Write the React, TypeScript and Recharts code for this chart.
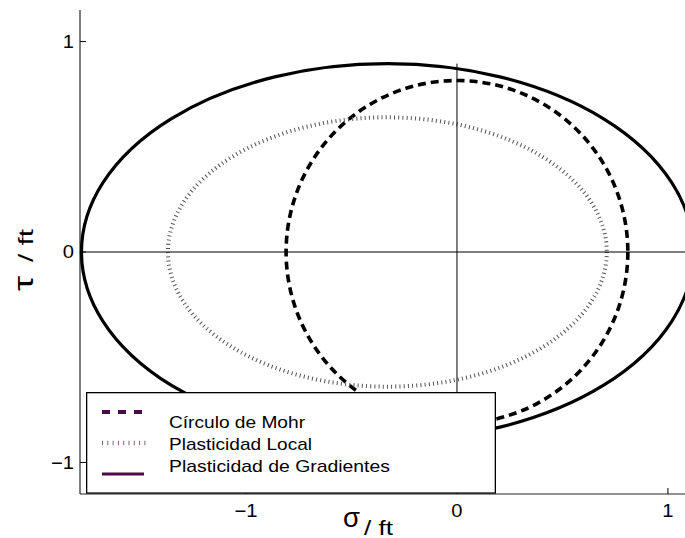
import { FC } from 'react'
import { LineChart, XAxis, YAxis, ReferenceArea, ReferenceLine, Legend, Label } from 'recharts'

// yield curves in the (σ/ft, τ/ft) plane: centre and half-axes of each one
const curveNames = ['Círculo de Mohr', 'Plasticidad Local', 'Plasticidad de Gradientes']
const centreSigma = [0, -0.33, -0.33]
const centreTau = [0, 0, 0]
const halfSigma = [0.81, 1.04, 1.45]
const halfTau = [0.815, 0.64, 0.895]

const sigmaTicks = [-1, 0, 1]
const tauTicks = [-1, 0, 1]
const sigmaDomain = [-1.787, 1.152]
const tauDomain = [-1.15, 1.15]
const crossTau = [-0.895, 0.895]

const FONT = "'Liberation Sans', Arial, sans-serif"
const PURPLE = '#4b0b47'

const curveStyle = [
    { stroke: '#000', strokeWidth: 3.6, strokeDasharray: '8 5' },
    { stroke: '#555', strokeWidth: 4, strokeDasharray: '1 3.2' },
    { stroke: '#000', strokeWidth: 3.2, strokeDasharray: undefined },
]
const legendStyle = [
    { stroke: PURPLE, strokeWidth: 4, strokeDasharray: '8 8' },
    { stroke: '#8a5a86', strokeWidth: 4.5, strokeDasharray: '1 4.3' },
    { stroke: PURPLE, strokeWidth: 3, strokeDasharray: undefined },
]

const fmt = (v: number) => (v < 0 ? '\u2212' + Math.abs(v) : String(v))

const StretchTick = (props: any) => {
    const { x, y, payload, textAnchor, orientation } = props
    return (
        <g transform={`translate(${x},${y}) scale(1.12,1)`}>
            <text x={0} y={0} textAnchor={textAnchor} dy={orientation === 'bottom' ? '0.71em' : '0.355em'}
                fontFamily={FONT} fontSize={18} fill="#000">
                {fmt(payload.value)}
            </text>
        </g>
    )
}

// each curve is the ellipse inscribed in its bounding area
const ellipseShape = (i: number) => (p: any) => (
    <ellipse cx={p.x + p.width / 2} cy={p.y + p.height / 2}
        rx={Math.abs(p.width) / 2} ry={Math.abs(p.height) / 2}
        fill="none" {...curveStyle[i]} />
)

const sampleY = [20, 51, 82]
const textY = [36, 58, 80]
const textLen = [136, 143, 221]

const LegendBox = () => (
    <svg width={410} height={102} style={{ display: 'block' }}>
        <rect x={0.65} y={0.65} width={408.7} height={100.4} fill="#fff" stroke="#000" strokeWidth={1.3} />
        {curveNames.map((name, i) => (
            <g key={name}>
                <line x1={16} x2={i === 1 ? 61 : 58} y1={sampleY[i]} y2={sampleY[i]} {...legendStyle[i]} />
                <text x={83} y={textY[i]} fontFamily={FONT} fontSize={17} textLength={textLen[i]}
                    lengthAdjust="spacingAndGlyphs" fill="#000">{name}</text>
            </g>
        ))}
    </svg>
)

const SigmaLabel = () => (
    <g fontFamily={FONT} fill="#000">
        <text x={343} y={527} fontSize={27} textLength={17} lengthAdjust="spacingAndGlyphs">σ</text>
        <text x={364} y={535} fontSize={21} textLength={29} lengthAdjust="spacingAndGlyphs">/ ft</text>
    </g>
)

const TauLabel = () => (
    <g transform="translate(33,291) rotate(-90)" fontFamily={FONT} fill="#000">
        <text x={0} y={0} fontSize={27} textLength={15} lengthAdjust="spacingAndGlyphs">τ</text>
        <text x={29} y={0} fontSize={21} textLength={33} lengthAdjust="spacingAndGlyphs">/ ft</text>
    </g>
)

const App: FC = () => {
    return (
        <div style={{ position: 'fixed', left: 0, top: 0, width: 685, height: 538, overflow: 'hidden', background: '#fff' }}>
            <LineChart width={720} height={538} margin={{ top: 10, right: 20, bottom: 43, left: 79 }}>
                <XAxis type="number" dataKey="sigma" domain={sigmaDomain} ticks={sigmaTicks} height={1}
                    allowDataOverflow tickSize={-6} tickMargin={16} tick={StretchTick}
                    axisLine={{ stroke: '#6e6e6e', strokeWidth: 1.6 }} tickLine={{ stroke: '#000' }}>
                    <Label content={SigmaLabel} />
                </XAxis>
                <YAxis type="number" dataKey="tau" domain={tauDomain} ticks={tauTicks} width={1}
                    allowDataOverflow tickSize={-6} tickMargin={12} tick={StretchTick}
                    axisLine={{ stroke: '#000' }} tickLine={{ stroke: '#000' }}>
                    <Label content={TauLabel} />
                </YAxis>
                <ReferenceLine y={0} stroke="#000" strokeWidth={1} ifOverflow="visible" />
                <ReferenceLine segment={[{ x: 0, y: crossTau[0] }, { x: 0, y: crossTau[1] }]}
                    stroke="#000" strokeWidth={1} ifOverflow="visible" />
                {curveNames.map((name, i) => (
                    <ReferenceArea key={name} ifOverflow="visible"
                        x1={centreSigma[i] - halfSigma[i]} x2={centreSigma[i] + halfSigma[i]}
                        y1={centreTau[i] - halfTau[i]} y2={centreTau[i] + halfTau[i]}
                        shape={ellipseShape(i)} />
                ))}
                <Legend layout="vertical" align="center" verticalAlign="middle" content={LegendBox}
                    wrapperStyle={{ left: 86, top: 392, width: 410, height: 102 }} />
            </LineChart>
        </div>
    )
}

export default App
